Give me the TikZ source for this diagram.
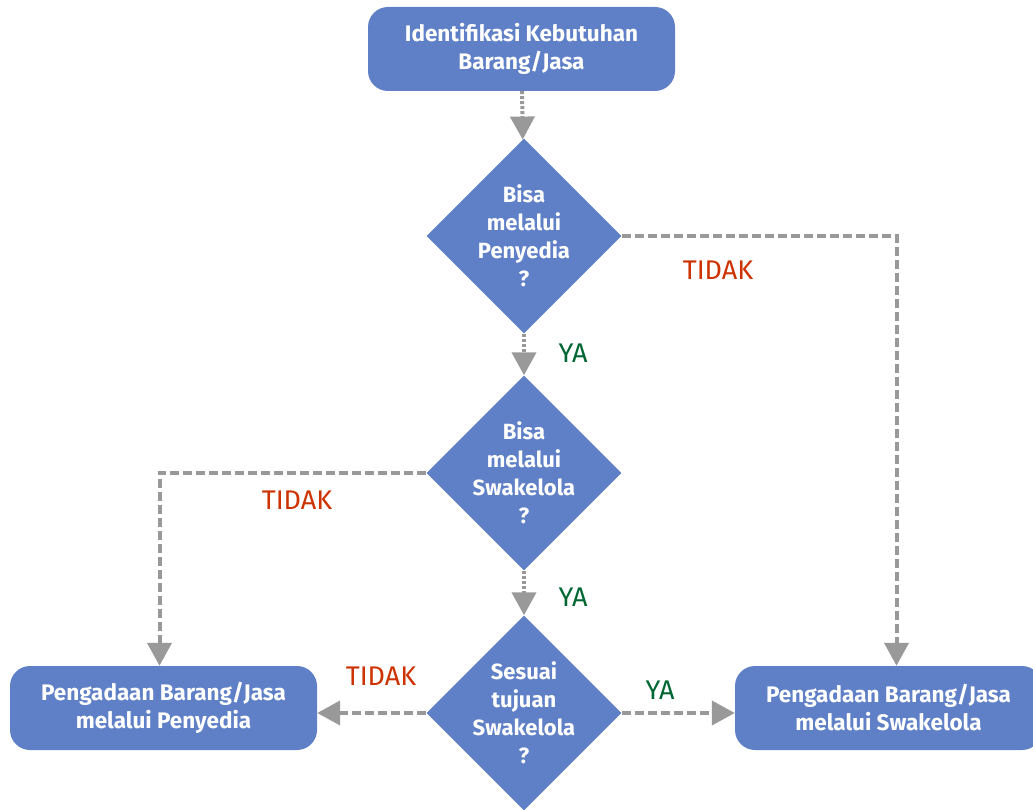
\documentclass[tikz,border=0pt]{standalone}
\usepackage{fontspec}
\setmainfont{Fira Sans}
\usepackage{xcolor}
\usepackage{tikz}
\usetikzlibrary{shapes.geometric,arrows.meta}

\definecolor{boxblue}{RGB}{95,128,199}
\definecolor{flowgray}{RGB}{153,153,153}
\definecolor{nored}{RGB}{204,51,0}
\definecolor{yagreen}{RGB}{0,102,51}

\begin{document}
\begin{tikzpicture}[
      x=1pt, y=-1pt,
      box/.style={rectangle, rounded corners=20pt, fill=boxblue, text=white, align=center, font=\bfseries\fontsize{22.5}{28}\selectfont, minimum width=307pt, minimum height=84pt, inner sep=0pt},
      decision/.style={diamond, fill=boxblue, text=white, align=center, font=\bfseries\fontsize{22}{28}\selectfont, minimum width=195pt, minimum height=195pt, inner sep=-12pt},
      flow/.style={draw=flowgray, line width=4pt, dash pattern=on 9pt off 4pt, -{Triangle[length=23pt,width=24pt]}},
      flowshort/.style={flow, dash pattern=on 3pt off 2pt},
      tidak/.style={text=nored, font=\fontsize{27}{30}\selectfont},
      ya/.style={text=yagreen, font=\fontsize{27}{30}\selectfont}
    ]
      \useasboundingbox (0,0) rectangle (1033,810);
      \node[box] (ident) at (521.5, 49) {Identifikasi Kebutuhan\\Barang/Jasa};
      \node[decision] (qpenyedia) at (524, 236) {Bisa\\melalui\\Penyedia\\?};
      \node[decision] (qswakelola) at (524, 473) {Bisa\\melalui\\Swakelola\\?};
      \node[decision] (qsesuai) at (524, 713) {Sesuai\\tujuan\\Swakelola\\?};
      \node[box] (penyedia) at (163.5, 708) {Pengadaan Barang/Jasa\\melalui Penyedia};
      \node[box] (swakelola) at (888.5, 708) {Pengadaan Barang/Jasa\\melalui Swakelola};
      % connectors
      \draw[flowshort] (ident) -- (qpenyedia);
      \draw[flowshort] (qpenyedia) -- (qswakelola);
      \draw[flowshort] (qswakelola) -- (qsesuai);
      \draw[flow] (qpenyedia.east) -| ([xshift=8pt]swakelola.north);
      \draw[flow] (qswakelola.west) -| ([xshift=-4pt]penyedia.north);
      \draw[flow] (qsesuai.west) -- (qsesuai.west -| penyedia.east);
      \draw[flow] (qsesuai.east) -- (qsesuai.east -| swakelola.west);
      % labels
      \node[tidak] (tidak1) at (718, 270) {TIDAK};
      \node[ya] (ya1) at (573, 353) {YA};
      \node[tidak] (tidak2) at (297, 500) {TIDAK};
      \node[ya] (ya2) at (573, 597) {YA};
      \node[tidak] (tidak3) at (381, 676) {TIDAK};
      \node[ya] (ya3) at (660, 690) {YA};
    \end{tikzpicture}
\end{document}
